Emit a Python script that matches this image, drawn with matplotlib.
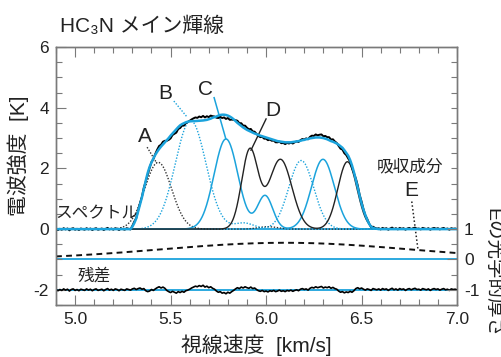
import numpy as np
import matplotlib
matplotlib.use("Agg", force=True)
import matplotlib.pyplot as plt
from matplotlib.ticker import MultipleLocator

plt.rcParams["font.family"] = ["Liberation Sans", "Noto Sans CJK JP", "DejaVu Sans"]

BLUE = "#1ba3dc"
DARK = "#222222"
GRAY = "#7a7a7a"

# velocity grid of the observed spectrum [km/s]
velocity = np.round(np.arange(4.90, 7.0001, 0.01), 2)

# total fit (blue), K, sampled every 0.01 km/s
fit_total = (
    [0.0] * 40
    + [0.08, 0.20, 0.35, 0.58, 0.80, 1.05, 1.33, 1.60, 1.85, 2.05,
       2.20, 2.33, 2.45, 2.55, 2.64, 2.72, 2.79, 2.86, 2.93, 3.00,
       3.08, 3.15, 3.22, 3.29, 3.36, 3.42, 3.46, 3.49, 3.52, 3.54,
       3.55, 3.555, 3.56, 3.56, 3.565, 3.57, 3.575, 3.58, 3.59, 3.60,
       3.62, 3.64, 3.67, 3.69, 3.71, 3.74, 3.76, 3.77, 3.77, 3.76,
       3.74, 3.71, 3.67, 3.62, 3.56, 3.50, 3.45, 3.40, 3.35, 3.31,
       3.27, 3.24, 3.21, 3.18, 3.15, 3.13, 3.10, 3.08, 3.06, 3.04,
       3.02, 3.00, 2.98, 2.96, 2.94, 2.92, 2.90, 2.89, 2.88, 2.87,
       2.86, 2.86, 2.86, 2.86, 2.87, 2.88, 2.89, 2.90, 2.91, 2.93,
       2.94, 2.96, 2.97, 2.99, 3.00, 3.01, 3.02, 3.02, 3.02, 3.01,
       3.00, 2.98, 2.96, 2.93, 2.90, 2.88, 2.85, 2.82, 2.78, 2.73,
       2.68, 2.60, 2.51, 2.42, 2.28, 2.10, 1.88, 1.63, 1.37, 1.10,
       0.85, 0.64, 0.46, 0.30, 0.17, 0.08, 0.04, 0.02, 0.01, 0.00]
    + [0.0] * 41
)

# residual (spectrum - fit), K
residual = [
    0.02, -0.03, 0.01, -0.02, 0.03, -0.01, 0.02, -0.04, 0.01, 0.03,
    -0.02, 0.01, -0.03, 0.02, 0.00, -0.02, 0.03, -0.01, 0.02, -0.03,
    0.01, 0.03, -0.02, 0.00, 0.02, -0.03, 0.01, 0.04, -0.01, 0.02,
    -0.02, 0.03, 0.01, -0.03, 0.02, 0.00, -0.02, 0.03, 0.01, -0.01,
    0.03, 0.05, 0.01, 0.04, 0.06, 0.02, 0.04, -0.03, -0.06, -0.04,
    0.01, -0.02, 0.03, 0.07, 0.10, 0.06, 0.09, 0.05, -0.02, -0.06,
    -0.09, -0.05, -0.08, -0.11, -0.06, -0.09, -0.05, -0.08, -0.03, -0.01,
    0.02, 0.06, 0.09, 0.12, 0.10, 0.14, 0.11, 0.15, 0.09, 0.12,
    0.07, 0.10, 0.05, 0.02, -0.04, -0.08, -0.06, -0.11, -0.09, -0.13,
    -0.08, -0.11, -0.06, -0.02, 0.03, 0.07, 0.04, 0.09, 0.06, 0.10,
    0.07, 0.05, 0.09, 0.04, 0.06, 0.01, -0.03, -0.05, -0.02, -0.06,
    -0.04, -0.07, -0.03, -0.05, -0.02, -0.06, -0.04, -0.01, -0.05, -0.03,
    -0.06, -0.02, -0.04, -0.01, -0.05, -0.02, 0.00, -0.03, 0.02, 0.04,
    0.01, 0.03, -0.01, 0.05, 0.08, 0.06, 0.10, 0.07, 0.09, 0.11,
    0.06, 0.09, 0.07, 0.10, 0.05, 0.08, 0.04, 0.02, -0.04, -0.08,
    -0.06, -0.10, -0.07, -0.09, -0.05, -0.08, -0.03, 0.04, 0.07, 0.03,
    0.06, 0.02, -0.01, 0.03, 0.01, -0.02, 0.04, 0.02, 0.00, 0.03,
    -0.01, 0.04, 0.01, 0.03, -0.02, 0.02, 0.05, 0.00, 0.03, -0.01,
    0.04, 0.01, 0.03, -0.02, 0.02, 0.04, 0.00, 0.03, 0.05, 0.01,
    0.02, -0.01, 0.04, 0.02, 0.00, 0.03, -0.02, 0.02, 0.04, 0.01,
    0.03, -0.01, 0.02, 0.04, 0.00, 0.02, -0.02, 0.03, 0.01, 0.02,
    0.00,
]

# hyperfine lines of each velocity component: (centre km/s, peak K, sigma km/s)
comp_A = [(5.435, 2.20, 0.070), (6.01, 0.08, 0.05)]
comp_B = [(5.605, 3.58, 0.080), (5.885, 0.20, 0.05), (6.184, 2.26, 0.065)]
comp_C = [(5.790, 2.97, 0.0625), (5.995, 1.10, 0.040), (6.298, 2.30, 0.060)]
comp_D = [(5.915, 2.60, 0.043), (6.075, 2.30, 0.060), (6.426, 2.22, 0.050)]

# absorbing component E (right axis, optical depth)
comp_E = (6.10, 0.55, 0.65)

RESID_OFFSET = -2.0


def gauss_sum(v, lines):
    out = np.zeros_like(v)
    for v0, amp, sig in lines:
        out += amp * np.exp(-0.5 * ((v - v0) / sig) ** 2)
    return out


fit_total = np.asarray(fit_total)
residual = np.asarray(residual)
spectrum = fit_total + residual

vfine = np.linspace(4.9, 7.0, 1200)

fig = plt.figure(figsize=(5.02, 3.57), dpi=100)
ax = fig.add_axes([0.1116, 0.1457, 0.7988, 0.7226])

# baselines
ax.axhline(0.0, color=BLUE, lw=1.3, zorder=1)
ax.axhline(-1.0, color=BLUE, lw=1.3, zorder=1)
ax.axhline(RESID_OFFSET, color=BLUE, lw=1.3, zorder=1)

# components
ax.plot(vfine, gauss_sum(vfine, comp_A), color="#333333", lw=1.0, ls=(0, (1, 1.2)), zorder=2)
ax.plot(vfine, gauss_sum(vfine, comp_B), color=BLUE, lw=1.0, ls=(0, (1, 1.2)), zorder=2)
ax.plot(vfine, gauss_sum(vfine, comp_C), color=BLUE, lw=1.1, zorder=2)
ax.plot(vfine, gauss_sum(vfine, comp_D), color="#222222", lw=1.0, zorder=2)

# spectrum and fit
ax.plot(velocity, spectrum, color="black", lw=1.4, zorder=3)
ax.plot(velocity, fit_total, color=BLUE, lw=1.8, zorder=4)

# residual
ax.plot(velocity, residual + RESID_OFFSET, color="black", lw=1.2, zorder=3)

# optical depth of E on right axis
ax2 = ax.twinx()
e0, etau, esig = comp_E
ax2.plot(vfine, etau * np.exp(-0.5 * ((vfine - e0) / esig) ** 2),
         color="#111111", lw=1.4, ls=(0, (3, 2.2)))

# leader lines
ax.plot([5.377, 5.428], [2.70, 2.17], color="#333333", lw=1.0, ls=(0, (1, 1.2)))
ax.plot([5.517, 5.588], [4.22, 3.68], color=BLUE, lw=1.0, ls=(0, (1, 1.2)))
ax.plot([5.728, 5.789], [4.33, 2.98], color=BLUE, lw=1.1)
ax.plot([6.000, 5.921], [3.63, 2.60], color="#222222", lw=1.0)
ax.plot([6.763, 6.795], [0.91, -0.65], color="#222222", lw=1.1, ls=(0, (1, 1.5)))

lab_kw = dict(fontsize=15, color=DARK, ha="center", va="center")
ax.text(5.363, 3.05, "A", **lab_kw)
ax.text(5.474, 4.48, "B", **lab_kw)
ax.text(5.684, 4.61, "C", **lab_kw)
ax.text(6.037, 3.90, "D", **lab_kw)
ax.text(6.758, 1.27, "E", **lab_kw)
ax.text(6.753, 2.05, "吸収成分", fontsize=12, color=DARK, ha="center", va="center")
ax.text(5.116, 0.49, "スペクトル", fontsize=12, color=DARK, ha="center", va="center")
ax.text(5.100, -1.52, "残差", fontsize=12, color=DARK, ha="center", va="center")

ax.set_xlim(4.9, 7.0)
ax.set_ylim(-2.5, 6.0)
ax2.set_ylim(-1.5, 7.0)

ax.set_xticks([5.0, 5.5, 6.0, 6.5, 7.0])
ax.set_xticklabels(["5.0", "5.5", "6.0", "6.5", "7.0"])
ax.xaxis.set_minor_locator(MultipleLocator(0.1))
ax.set_yticks([-2, 0, 2, 4, 6])
ax.set_yticklabels(["-2", "0", "2", "4", "6"])
ax.yaxis.set_minor_locator(MultipleLocator(0.5))
ax2.set_yticks([-1, 0, 1])
ax2.set_yticklabels(["-1", "0", "1"])
ax2.yaxis.set_minor_locator(MultipleLocator(0.5))

for a in (ax, ax2):
    a.tick_params(which="both", direction="in", color=GRAY, labelsize=12.5,
                  labelcolor=DARK, width=0.8)
    a.tick_params(which="major", length=7, pad=5)
    a.tick_params(which="minor", length=4)
    for s in a.spines.values():
        s.set_color(GRAY)
        s.set_linewidth(1.0)
ax.tick_params(which="both", top=True)

ax.set_xlabel("視線速度  [km/s]", fontsize=15, color=DARK, labelpad=5)
fig.text(0.036, 0.565, "電波強度  [K]", fontsize=15, color=DARK,
         rotation=90, ha="center", va="center")
fig.text(0.982, 0.418, "Eの光学的厚さ", fontsize=14, color=DARK,
         rotation=270, ha="center", va="top")
fig.text(0.12, 0.925, "HC₃N メイン輝線", fontsize=15, color=DARK,
         ha="left", va="center")

fig.savefig("out.png", dpi=100)
plt.close(fig)
